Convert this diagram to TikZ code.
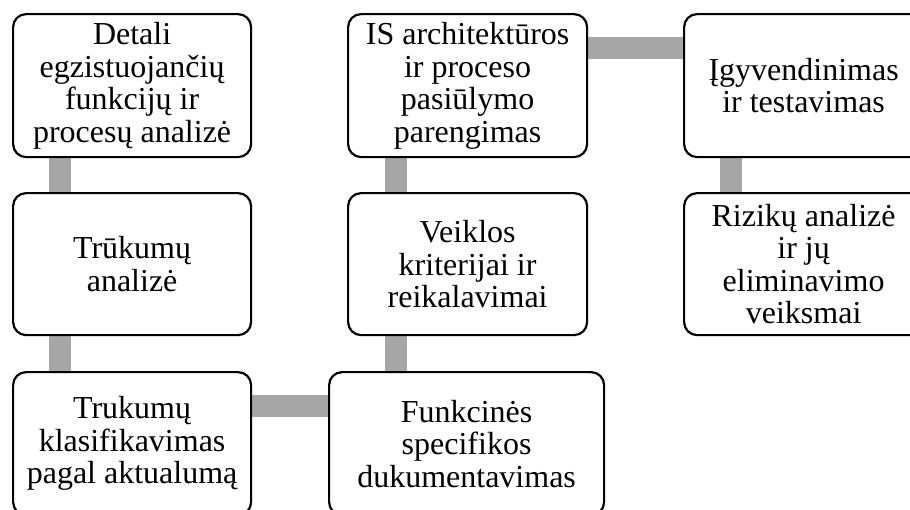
\documentclass[tikz,border=0pt]{standalone}
\usepackage{fontspec}
\setmainfont{Liberation Serif}
\usetikzlibrary{backgrounds}
\definecolor{conngray}{RGB}{166,166,166}
\tikzset{
  box/.style={draw=black, line width=2.2pt, rounded corners=13pt, fill=white,
    align=center, inner sep=0pt, anchor=north west,
    font=\fontsize{32}{32.5}\selectfont},
  conn/.style={draw=conngray, line width=22pt},
}
\begin{document}
\begin{tikzpicture}[x=1pt,y=-1pt]
\useasboundingbox (0,0) rectangle (910,509);
\node[box, minimum width=238pt, minimum height=143pt] (b1) at (12,13) {Detali\\egzistuojančių\\funkcijų ir\\procesų analizė};
\node[box, minimum width=238pt, minimum height=142pt] (b2) at (12,192) {Trūkumų\\analizė};
\node[box, minimum width=238pt, minimum height=143pt] (b3) at (12,371) {Trukumų\\klasifikavimas\\pagal aktualumą};
\node[box, minimum width=275pt, minimum height=143pt] (b4) at (328,371) {Funkcinės\\specifikos\\dukumentavimas};
\node[box, minimum width=239pt, minimum height=142pt] (b5) at (347,192) {Veiklos\\kriterijai ir\\reikalavimai};
\node[box, minimum width=239pt, minimum height=143pt] (b6) at (347,13) {IS architektūros\\ir proceso\\pasiūlymo\\parengimas};
\node[box, minimum width=239pt, minimum height=143pt] (b7) at (683,13) {Įgyvendinimas\\ir testavimas};
\node[box, minimum width=239pt, minimum height=142pt] (b8) at (683,192) {Rizikų analizė\\ir jų\\eliminavimo\\veiksmai};
\coordinate (c45) at ([xshift=49pt]b5.north west);
\begin{scope}[on background layer]
\draw[conn] ([xshift=48pt]b1.north west) -- ([xshift=48pt]b2.north west);
\draw[conn] ([xshift=48pt]b2.north west) -- ([xshift=48pt]b3.north west);
\draw[conn] ([yshift=-34.5pt]b3.north west) -- ([yshift=-34.5pt]b4.north east);
\draw[conn] (c45) -- (c45 |- b4.north);
\draw[conn] ([xshift=49pt]b6.north west) -- ([xshift=49pt]b5.north west);
\draw[conn] ([yshift=-34.5pt]b6.north west) -- ([yshift=-34.5pt]b7.north west);
\draw[conn] ([xshift=48pt]b7.north west) -- ([xshift=48pt]b8.north west);
\end{scope}
\end{tikzpicture}
\end{document}
